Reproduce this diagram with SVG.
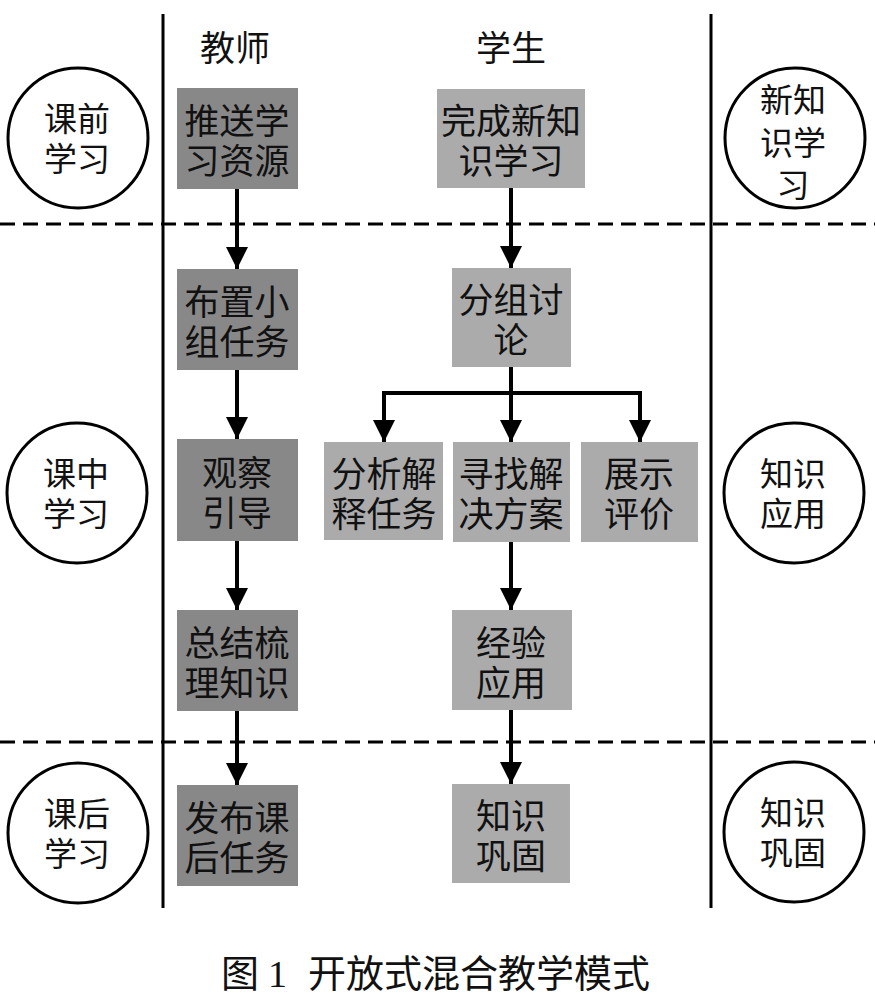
<svg xmlns="http://www.w3.org/2000/svg" width="875" height="1002" viewBox="0 0 875 1002">
<style>
  text { font-family: "Noto Sans CJK SC", "Noto Sans", sans-serif; fill: #111; text-anchor: middle; dominant-baseline: central; }
  .box { font-size: 35px; }
  .circ { font-size: 33px; }
  .hdr { font-size: 35px; }
  .tch { fill: #888888; }
  .stu { fill: #ababab; }
  .ring { fill: #fff; stroke: #000; stroke-width: 3; }
  .lane { stroke: #000; stroke-width: 3; }
  .dash { stroke: #000; stroke-width: 3; stroke-dasharray: 15 8; }
  .arr { stroke: #000; stroke-width: 4; fill: none; marker-end: url(#ah); }
  .cap { font-family: "Liberation Serif", "Noto Sans CJK SC", serif; font-size: 38px; text-anchor: start; }
</style>
<defs>
  <marker id="ah" markerUnits="userSpaceOnUse" markerWidth="22" markerHeight="22" viewBox="0 0 22 22" refX="22" refY="11" orient="auto">
    <path d="M0,0 L22,11 L0,22 z" fill="#000"/>
  </marker>
</defs>
<rect width="875" height="1002" fill="#fff"/>

<g id="lanes">
  <line class="lane" x1="163" y1="14" x2="163" y2="908"/>
  <line class="lane" x1="711" y1="14" x2="711" y2="908"/>
  <line class="dash" x1="0" y1="224" x2="875" y2="224"/>
  <line class="dash" x1="0" y1="742" x2="875" y2="742"/>
</g>

<g id="headers">
  <text class="hdr" x="235" y="45">教师</text>
  <text class="hdr" x="511" y="45">学生</text>
</g>

<g id="connectors">
  <line class="arr" x1="237" y1="189" x2="237" y2="269"/>
  <line class="arr" x1="237" y1="370" x2="237" y2="439"/>
  <line class="arr" x1="237" y1="541" x2="237" y2="610"/>
  <line class="arr" x1="237" y1="711" x2="237" y2="785"/>
  <line class="arr" x1="511" y1="188" x2="511" y2="268"/>
  <line class="arr" x1="511" y1="367" x2="511" y2="442"/>
  <polyline class="arr" points="511,393 384,393 384,442"/>
  <polyline class="arr" points="511,393 640,393 640,442"/>
  <line class="arr" x1="511" y1="542" x2="511" y2="610"/>
  <line class="arr" x1="511" y1="710" x2="511" y2="784"/>
</g>

<g id="c-kqxx">
  <circle class="ring" cx="78" cy="138" r="70"/>
  <text class="circ"><tspan x="77" y="117">课前</tspan><tspan x="77" y="157">学习</tspan></text>
</g>
<g id="c-kzxx">
  <circle class="ring" cx="77" cy="493" r="70"/>
  <text class="circ"><tspan x="76" y="472">课中</tspan><tspan x="76" y="512">学习</tspan></text>
</g>
<g id="c-khxx">
  <circle class="ring" cx="78" cy="833" r="70"/>
  <text class="circ"><tspan x="77" y="812">课后</tspan><tspan x="77" y="852">学习</tspan></text>
</g>
<g id="c-xzsxx">
  <circle class="ring" cx="795" cy="138" r="70"/>
  <text class="circ"><tspan x="793" y="98">新知</tspan><tspan x="793" y="141">识学</tspan><tspan x="793" y="183">习</tspan></text>
</g>
<g id="c-zsyy">
  <circle class="ring" cx="794" cy="493" r="70"/>
  <text class="circ"><tspan x="793" y="472">知识</tspan><tspan x="793" y="512">应用</tspan></text>
</g>
<g id="c-zsgg">
  <circle class="ring" cx="794" cy="832" r="70"/>
  <text class="circ"><tspan x="793" y="811">知识</tspan><tspan x="793" y="851">巩固</tspan></text>
</g>

<g id="n-tsxxzy">
  <rect class="tch" x="177" y="88" width="121" height="101"/>
  <text class="box"><tspan x="237" y="118">推送学</tspan><tspan x="237" y="158">习资源</tspan></text>
</g>
<g id="n-bzxzrw">
  <rect class="tch" x="177" y="269" width="121" height="101"/>
  <text class="box"><tspan x="237" y="299">布置小</tspan><tspan x="237" y="339">组任务</tspan></text>
</g>
<g id="n-gcyd">
  <rect class="tch" x="177" y="439" width="121" height="102"/>
  <text class="box"><tspan x="237" y="470">观察</tspan><tspan x="237" y="510">引导</tspan></text>
</g>
<g id="n-zjslzs">
  <rect class="tch" x="177" y="610" width="121" height="101"/>
  <text class="box"><tspan x="237" y="640">总结梳</tspan><tspan x="237" y="680">理知识</tspan></text>
</g>
<g id="n-fbkhrw">
  <rect class="tch" x="177" y="785" width="121" height="101"/>
  <text class="box"><tspan x="237" y="815">发布课</tspan><tspan x="237" y="855">后任务</tspan></text>
</g>

<g id="n-wcxzsxx">
  <rect class="stu" x="437" y="89" width="148" height="99"/>
  <text class="box"><tspan x="511" y="118">完成新知</tspan><tspan x="511" y="158">识学习</tspan></text>
</g>
<g id="n-fztl">
  <rect class="stu" x="452" y="268" width="119" height="99"/>
  <text class="box"><tspan x="511" y="297">分组讨</tspan><tspan x="511" y="337">论</tspan></text>
</g>
<g id="n-fxjsrw">
  <rect class="stu" x="324" y="442" width="119" height="98"/>
  <text class="box"><tspan x="384" y="471">分析解</tspan><tspan x="384" y="511">释任务</tspan></text>
</g>
<g id="n-xzjjfa">
  <rect class="stu" x="453" y="442" width="117" height="100"/>
  <text class="box"><tspan x="511" y="471">寻找解</tspan><tspan x="511" y="511">决方案</tspan></text>
</g>
<g id="n-zspj">
  <rect class="stu" x="581" y="442" width="117" height="100"/>
  <text class="box"><tspan x="639" y="471">展示</tspan><tspan x="639" y="511">评价</tspan></text>
</g>
<g id="n-jyyy">
  <rect class="stu" x="452" y="610" width="120" height="100"/>
  <text class="box"><tspan x="511" y="640">经验</tspan><tspan x="511" y="680">应用</tspan></text>
</g>
<g id="n-zsgg">
  <rect class="stu" x="452" y="784" width="118" height="99"/>
  <text class="box"><tspan x="511" y="813">知识</tspan><tspan x="511" y="853">巩固</tspan></text>
</g>

<g id="caption">
  <text class="cap" y="974"><tspan x="221">图</tspan><tspan x="268">1</tspan><tspan x="308">开放式混合教学模式</tspan></text>
</g>
</svg>
